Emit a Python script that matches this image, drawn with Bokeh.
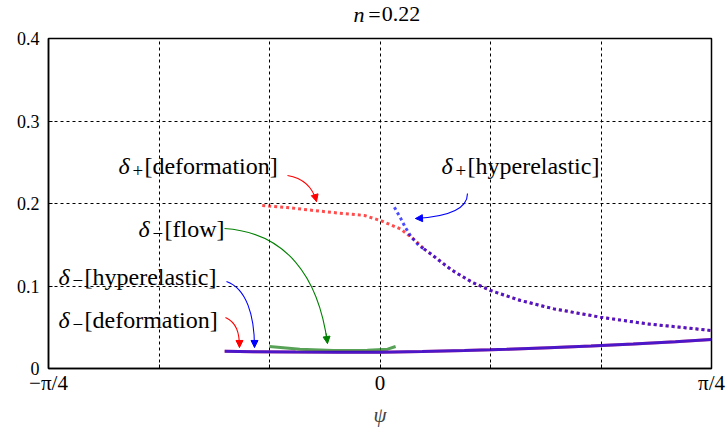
import numpy as np
from bokeh.plotting import figure
from bokeh.layouts import column
from bokeh.models import Range1d, FixedTicker, Arrow, NormalHead
from bokeh.core.properties import value
from bokeh.embed import file_html
from bokeh.resources import INLINE

PI = np.pi

# ---------------- data ----------------
title_n = 0.22

# delta_+ [deformation]  (red, dotted)
plus_def_psi = [-0.279, -0.22, -0.157, -0.10, -0.037, 0.005, 0.049, 0.084, 0.104,
                0.12, 0.169, 0.218, 0.262, 0.333, 0.412, 0.522, 0.633, 0.714, 0.785]
plus_def_val = [0.1976, 0.1952, 0.1915, 0.1885, 0.1855, 0.1786, 0.169, 0.155, 0.145,
                0.139, 0.1196, 0.1046, 0.0945, 0.0824, 0.0723, 0.0622, 0.0541, 0.0499, 0.046]
# delta_+ [hyperelastic]  (blue, dotted)
plus_hyp_psi = [0.034, 0.049, 0.060, 0.072, 0.092, 0.104,
                0.12, 0.169, 0.218, 0.262, 0.333, 0.412, 0.522, 0.633, 0.714, 0.785]
plus_hyp_val = [0.1955, 0.182, 0.171, 0.161, 0.149, 0.145,
                0.139, 0.1196, 0.1046, 0.0945, 0.0824, 0.0723, 0.0622, 0.0541, 0.0499, 0.046]
merge_psi = 0.104  # from here on both delta_+ curves coincide

# delta_- [deformation] (red, solid) and delta_- [hyperelastic] (blue, solid)
minus_psi = [-0.368, -0.3, -0.2, -0.1, 0.0, 0.1, 0.2, 0.262, 0.3, 0.4, 0.5, 0.6, 0.7, 0.785]
minus_def_val = [0.0208, 0.0204, 0.0200, 0.0198, 0.0198, 0.0205, 0.0217, 0.0226, 0.0232,
                 0.0252, 0.0273, 0.0297, 0.0324, 0.0352]
minus_hyp_val = [0.0208, 0.0204, 0.0200, 0.0198, 0.0198, 0.0205, 0.0217, 0.0226, 0.0232,
                 0.0252, 0.0273, 0.0297, 0.0324, 0.0352]
# delta_- [flow] (green, solid)
minus_flow_psi = [-0.262, -0.19, -0.11, -0.03, 0.018, 0.037]
minus_flow_val = [0.0267, 0.0234, 0.0218, 0.0222, 0.0234, 0.0267]

x_ticks = [-PI / 4, -PI / 6, -PI / 12, 0.0, PI / 12, PI / 6, PI / 4]
x_tick_labels = ["\u2212\u03c0/4", "", "", "0", "", "", "\u03c0/4"]
y_ticks = [0.0, 0.1, 0.2, 0.3, 0.4]
y_tick_labels = ["0", "0.1", "0.2", "0.3", "0.4"]

# annotation labels: subscript, bracket text, left x, middle y
ann_sub = ["+", "+", "\u2212", "\u2212", "\u2212"]
ann_text = ["[deformation]", "[hyperelastic]", "[flow]", "[hyperelastic]", "[deformation]"]
ann_x = [-0.6196, 0.1457, -0.5722, -0.7617, -0.7617]
ann_y = [0.2450, 0.2450, 0.1690, 0.1115, 0.0585]
# curved arrows: start, control 0, control 1, end
arr_color = ["red", "blue", "green", "blue", "red"]
arr_x0 = [-0.2192, 0.2073, -0.3684, -0.3637, -0.3661]
arr_y0 = [0.2339, 0.2121, 0.1697, 0.1055, 0.0618]
arr_cx0 = [-0.1765, 0.2073, -0.2239, -0.3163, -0.3400]
arr_cy0 = [0.2303, 0.1952, 0.1648, 0.0970, 0.0558]
arr_cx1 = [-0.1575, 0.1718, -0.1457, -0.2973, -0.3329]
arr_cy1 = [0.2158, 0.1842, 0.1127, 0.0642, 0.0436]
arr_x1 = [-0.1504, 0.0841, -0.1244, -0.2973, -0.3329]
arr_y1 = [0.2024, 0.1818, 0.0303, 0.0255, 0.0255]

SERIF = "Liberation Serif"
W = 728
TH = 27  # title strip height

# ---------------- title strip:  n = 0.22 ----------------
t = figure(width=W, height=TH, x_range=Range1d(0, W), y_range=Range1d(0, TH),
           title=None, output_backend="svg", toolbar_location=None,
           x_axis_type=None, y_axis_type=None,
           min_border_left=0, min_border_right=0, min_border_top=0, min_border_bottom=0)
t.outline_line_color = None
t.grid.visible = False
t.text(x=[335], y=[13.2], text=["n"], text_font=value(SERIF), text_font_style="italic",
       text_font_size="22px", text_baseline="middle", text_color="black")
t.text(x=[351, 366], y=[13.2, 13.2], text=["=", f"{title_n:.2f}"], text_font=value(SERIF),
       text_font_size="22px", text_baseline="middle", text_color="black")

# ---------------- main plot ----------------
p = figure(width=W, height=433 - TH, x_range=Range1d(-PI / 4, PI / 4), y_range=Range1d(0, 0.4),
           output_backend="svg", toolbar_location=None,
           min_border_left=48, min_border_right=17, min_border_top=38 - TH, min_border_bottom=65)
p.background_fill_color = "white"
p.border_fill_color = "white"
p.outline_line_color = "black"
p.outline_line_width = 1.5

p.xaxis.ticker = FixedTicker(ticks=x_ticks)
p.xaxis.major_label_overrides = {tk: l for tk, l in zip(x_ticks, x_tick_labels)}
p.yaxis.ticker = FixedTicker(ticks=y_ticks)
p.yaxis.major_label_overrides = {tk: l for tk, l in zip(y_ticks, y_tick_labels)}
for ax in (p.xaxis[0], p.yaxis[0]):
    ax.axis_line_color = "black"
    ax.axis_line_width = 1.5
    ax.major_tick_line_color = "black"
    ax.major_tick_in = 4
    ax.major_tick_out = 0
    ax.minor_tick_line_color = None
    ax.major_label_text_font = SERIF
    ax.major_label_text_color = "black"
p.yaxis.major_label_text_font_size = "18px"
p.xaxis.major_label_text_font_size = "21px"
p.xaxis.major_label_standoff = 2
p.yaxis.major_label_standoff = 9
p.xaxis.axis_label = "\u03c8"
p.xaxis.axis_label_text_font = SERIF
p.xaxis.axis_label_text_font_style = "italic"
p.xaxis.axis_label_text_font_size = "21px"
p.xaxis.axis_label_standoff = 5

p.grid.grid_line_color = "black"
p.grid.grid_line_dash = "3 3"
p.grid.grid_line_width = 1
p.grid.grid_line_alpha = 1.0

def split(psi, val, at):
    a = [(x, y) for x, y in zip(psi, val) if x <= at]
    b = [(x, y) for x, y in zip(psi, val) if x >= at]
    return list(zip(*a)), list(zip(*b))

(rd_a, rd_b) = split(plus_def_psi, plus_def_val, merge_psi)
(bh_a, bh_b) = split(plus_hyp_psi, plus_hyp_val, merge_psi)
dot = dict(line_width=3, line_dash="3 3", line_alpha=0.7)
p.line(list(rd_a[0]), list(rd_a[1]), line_color="red", **dot)
p.line(list(bh_a[0]), list(bh_a[1]), line_color="blue", **dot)
p.line(list(rd_b[0]), list(rd_b[1]), line_color="red", **dot)
p.line(list(bh_b[0]), list(bh_b[1]), line_color="blue", **dot)

p.line(minus_flow_psi, minus_flow_val, line_color="#2e8b2e", line_width=3, line_alpha=0.8)
p.line(minus_psi, minus_def_val, line_color="red", line_width=3, line_alpha=0.7)
p.line(minus_psi, minus_hyp_val, line_color="blue", line_width=3, line_alpha=0.7)

n_ann = len(ann_text)
p.text(x=ann_x, y=ann_y, text=["\u03b4"] * n_ann, text_align="left", text_baseline="middle",
       text_font=value(SERIF), text_font_style="italic", text_font_size="24px", text_color="black")
p.text(x=ann_x, y=ann_y, text=ann_sub, text_align="left", text_baseline="middle",
       x_offset=14, y_offset=4,
       text_font=value(SERIF), text_font_size="19px", text_color="black")
p.text(x=ann_x, y=ann_y, text=ann_text, text_align="left", text_baseline="middle",
       x_offset=26,
       text_font=value(SERIF), text_font_size="24px", text_color="black")
for i, c in enumerate(arr_color):
    p.bezier(x0=[arr_x0[i]], y0=[arr_y0[i]], x1=[arr_x1[i]], y1=[arr_y1[i]],
             cx0=[arr_cx0[i]], cy0=[arr_cy0[i]], cx1=[arr_cx1[i]], cy1=[arr_cy1[i]],
             line_color=c, line_width=1.1)
    dx = arr_x1[i] - arr_cx1[i]
    dy = arr_y1[i] - arr_cy1[i]
    f = 0.15
    p.add_layout(Arrow(end=NormalHead(size=7, fill_color=c, line_color=c, line_width=1),
                       x_start=arr_x1[i] - f * dx, y_start=arr_y1[i] - f * dy,
                       x_end=arr_x1[i], y_end=arr_y1[i], line_color=c, line_width=1))

layout = column(t, p, spacing=0)
open("out.html", "w").write(file_html(layout, INLINE))
